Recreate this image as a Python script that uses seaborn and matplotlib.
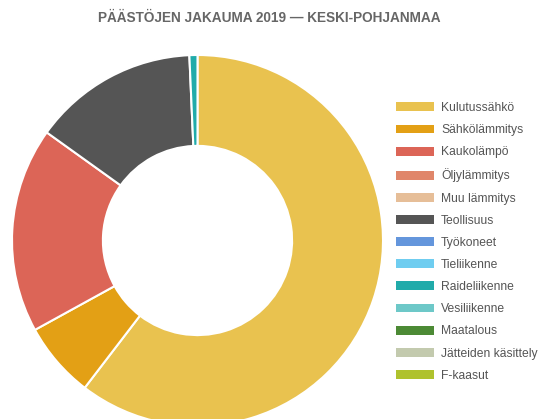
import matplotlib
matplotlib.use("Agg")
import matplotlib.pyplot as plt
import seaborn as sns
from matplotlib.patches import Patch

# emission shares (%) read from the donut, clockwise from 12 o'clock
categories = [
    "Kulutussähkö",
    "Sähkölämmitys",
    "Kaukolämpö",
    "Öljylämmitys",
    "Muu lämmitys",
    "Teollisuus",
    "Työkoneet",
    "Tieliikenne",
    "Raideliikenne",
    "Vesiliikenne",
    "Maatalous",
    "Jätteiden käsittely",
    "F-kaasut",
]
shares = [60.4, 6.6, 17.9, 0.0, 0.0, 14.4, 0.0, 0.0, 0.7, 0.0, 0.0, 0.0, 0.0]
colors = [
    "#E9C24F",
    "#E3A015",
    "#DC6557",
    "#E0866A",
    "#E6BE98",
    "#555555",
    "#6496DC",
    "#6FCDF0",
    "#21ABAA",
    "#6DC8C8",
    "#4C8A35",
    "#C3CAAE",
    "#AFC22E",
]
title = "PÄÄSTÖJEN JAKAUMA 2019 — KESKI-POHJANMAA"

sns.set_style("white")
plt.rcParams["font.family"] = ["Liberation Sans", "DejaVu Sans"]

fig = plt.figure(figsize=(5.39, 4.19), dpi=100)

# donut axes: centre (197.5, 240.5) px, radius 185.5 px
W, H = 539, 419
cx, cy, r = 197.5, 240.5, 185.5
ax = fig.add_axes([(cx - r) / W, (H - cy - r) / H, 2 * r / W, 2 * r / H])

vals = [v for v in shares if v > 0]
cols = [c for v, c in zip(shares, colors) if v > 0]

ax.pie(
    vals,
    colors=cols,
    startangle=90,
    counterclock=False,
    radius=1,
    wedgeprops=dict(width=0.49, edgecolor="white", linewidth=1.5),
)
ax.set_xlim(-1, 1)
ax.set_ylim(-1, 1)
ax.set_aspect("equal")
ax.axis("off")

fig.text(
    0.5,
    1 - 18 / H,
    title,
    ha="center",
    va="center",
    fontsize=9.85,
    fontweight="bold",
    color="#666666",
)

handles = [Patch(facecolor=c, edgecolor="none") for c in colors]
fig.legend(
    handles,
    categories,
    loc="upper left",
    bbox_to_anchor=(396 / W, 1 - 102 / H),
    frameon=False,
    fontsize=8.7,
    handlelength=3.15,
    handleheight=0.75,
    handletextpad=0.57,
    labelspacing=0.84,
    borderpad=0,
    borderaxespad=0,
    labelcolor="#555555",
)

plt.savefig("out.png", dpi=100)
